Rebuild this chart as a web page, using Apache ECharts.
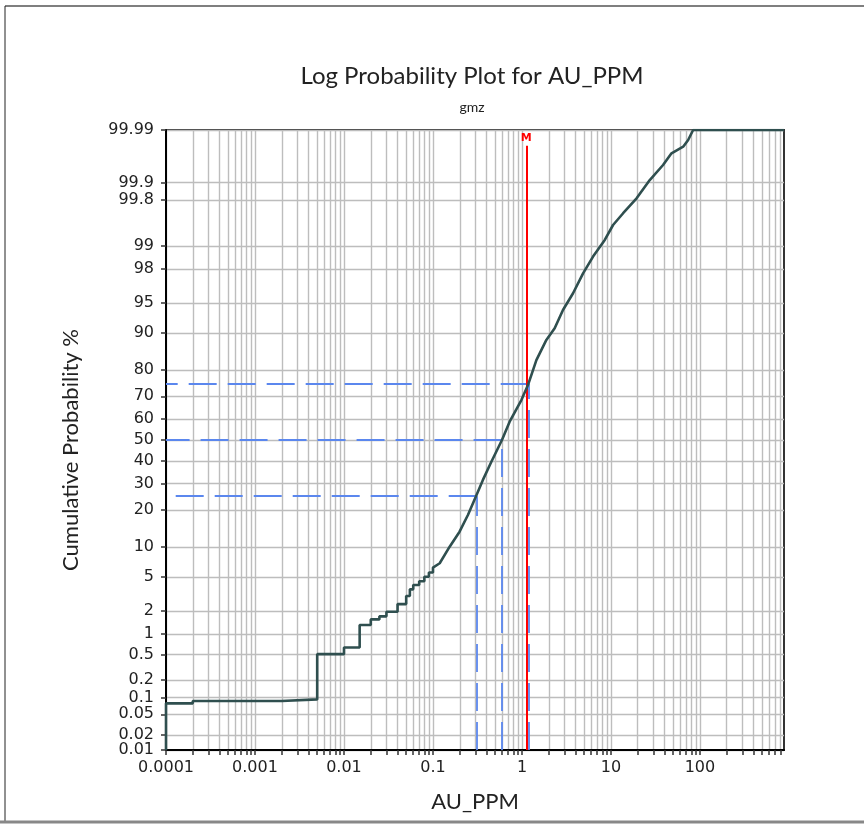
<!DOCTYPE html>
<html><head><meta charset="utf-8">
<script src="https://cdn.jsdelivr.net/npm/echarts@6/dist/echarts.min.js"></script>
<style>html,body{margin:0;padding:0;background:#fff}#chart{width:864px;height:829px}</style>
</head><body><div id="chart"></div>
<script>
// ---- data ----
const auPpm = [0.0001, 0.0001, 0.0002, 0.0002, 0.002, 0.002, 0.005, 0.005, 0.01, 0.01, 0.015, 0.015,
  0.02, 0.02, 0.025, 0.025, 0.03, 0.03, 0.04, 0.04, 0.05, 0.05, 0.055, 0.055, 0.06, 0.06, 0.07, 0.07,
  0.08, 0.08, 0.09, 0.09, 0.1, 0.1, 0.119, 0.154, 0.199, 0.247, 0.301, 0.364, 0.453, 0.596, 0.727,
  0.985, 1.168, 1.452, 1.88, 2.33, 2.89, 3.75, 4.86, 6.29, 8.52, 10.56, 13.7, 19.4, 27.3, 38.5, 47.9,
  64.8, 73.7, 83.8, 880];
const cumPct = [0.01, 0.079, 0.079, 0.087, 0.087, 0.093, 0.093, 0.51, 0.51, 0.64, 0.64, 1.32,
  1.32, 1.57, 1.57, 1.72, 1.72, 1.97, 1.97, 2.45, 2.45, 3.07, 3.07, 3.66, 3.66, 4.09, 4.09, 4.5,
  4.5, 5.05, 5.05, 5.6, 5.6, 6.3, 6.96, 10.03, 13.57, 18.4, 24.6, 31.6, 39.7, 50, 58.7,
  68.4, 74.5, 83.1, 88.5, 91.0, 94.06, 96.08, 97.72, 98.61, 99.18, 99.505, 99.674, 99.813, 99.909, 99.9515, 99.9708,
  99.9783, 99.984, 99.99, 99.99];
const probTickLabels = ['0.01','0.02','0.05','0.1','0.2','0.5','1','2','5','10','20','30','40','50',
  '60','70','80','90','95','98','99','99.8','99.9','99.99'];
const ppmTickLabels = ['0.0001','0.001','0.01','0.1','1','10','100'];
const quartilePct = [25, 50, 75];
const quartilePpm = [0.31, 0.59, 1.19];
const meanPpm = 1.12;
const ppmMin = 0.0001;
const ppmMax = 880;

// ---- normal probability scale ----
function probit(p){
  const a=[-3.969683028665376e+01,2.209460984245205e+02,-2.759285104469687e+02,1.383577518672690e+02,-3.066479806614716e+01,2.506628277459239e+00];
  const b=[-5.447609879822406e+01,1.615858368580409e+02,-1.556989798598866e+02,6.680131188771972e+01,-1.328068155288572e+01];
  const c=[-7.784894002430293e-03,-3.223964580411365e-01,-2.400758277161838e+00,-2.549671010466018e+00,4.374664141464968e+00,2.938163982698783e+00];
  const d=[7.784695709041462e-03,3.224671290700398e-01,2.445134137142996e+00,3.754408661907416e+00];
  const pl=0.02425, ph=1-pl; let q, r;
  if (p < pl) { q=Math.sqrt(-2*Math.log(p)); return (((((c[0]*q+c[1])*q+c[2])*q+c[3])*q+c[4])*q+c[5])/((((d[0]*q+d[1])*q+d[2])*q+d[3])*q+1); }
  if (p <= ph) { q=p-0.5; r=q*q; return (((((a[0]*r+a[1])*r+a[2])*r+a[3])*r+a[4])*r+a[5])*q/(((((b[0]*r+b[1])*r+b[2])*r+b[3])*r+b[4])*r+1); }
  q=Math.sqrt(-2*Math.log(1-p)); return -(((((c[0]*q+c[1])*q+c[2])*q+c[3])*q+c[4])*q+c[5])/((((d[0]*q+d[1])*q+d[2])*q+d[3])*q+1);
}
const zOf = pct => probit(pct / 100);
const lg = v => Math.log10(v);

const zMin = zOf(parseFloat(probTickLabels[0]));
const zMax = zOf(parseFloat(probTickLabels[probTickLabels.length - 1]));
const yTickVals = probTickLabels.map(s => zOf(parseFloat(s)));
const xMin = lg(ppmMin), xMax = lg(ppmMax);
const xLabelVals = ppmTickLabels.map(s => lg(parseFloat(s)));
const xTickVals = [];
ppmTickLabels.forEach(s => { const base = parseFloat(s); for (let k = 1; k <= 9; k++) { const v = lg(k * base); if (v <= xMax + 1e-9) xTickVals.push(v); } });

const curve = auPpm.map((v, i) => [lg(v), zOf(cumPct[i])]);

const blue = '#5b87ee';
const dash = [28, 11];
const quartileLines = [];
quartilePct.forEach((p, i) => {
  const x = lg(quartilePpm[i]), y = zOf(p);
  quartileLines.push([{ coord: [x, y] }, { coord: [xMin, y] }]);
  quartileLines.push([{ coord: [x, zMin] }, { coord: [x, y] }]);
});

const nearest = (vals, labels) => v => { let best = 0; vals.forEach((t, i) => { if (Math.abs(t - v) < Math.abs(vals[best] - v)) best = i; }); return labels[best]; };

const labelFont = 'DejaVu Sans';
const titleFont = 'Lato';
const gridColor = '#bdbdbd';
const yLabelStyle = { showMinLabel: true, showMaxLabel: true, hideOverlap: false, margin: 12,
  fontFamily: labelFont, fontSize: 16, color: '#222', formatter: nearest(yTickVals, probTickLabels) };
const chart = echarts.init(document.getElementById('chart'), null, { renderer: 'canvas' });
chart.setOption({
  animation: false,
  backgroundColor: '#fff',
  title: [
    { text: 'Log Probability Plot for AU_PPM', left: 472, top: 64, textAlign: 'center', padding: 0,
      textStyle: { fontFamily: titleFont, fontSize: 24, fontWeight: 'normal', color: '#222' } },
    { text: 'gmz', left: 472, top: 100, textAlign: 'center', padding: 0,
      textStyle: { fontFamily: titleFont, fontSize: 14, fontWeight: 'normal', color: '#222' } }
  ],
  grid: { left: 166, top: 130, right: 80, bottom: 79, show: true, borderColor: '#333', borderWidth: 2, backgroundColor: 'transparent', outerBoundsMode: 'none' },
  xAxis: {
    type: 'value', min: xMin, max: xMax,
    name: 'AU_PPM', nameLocation: 'middle', nameGap: 41,
    nameTextStyle: { fontFamily: titleFont, fontSize: 22, color: '#222' },
    axisLine: { show: true, onZero: false, lineStyle: { color: '#000', width: 2 } },
    axisTick: { show: true, inside: false, length: 5, customValues: xTickVals, lineStyle: { color: '#333', width: 1.5 } },
    axisLabel: { customValues: xLabelVals, showMinLabel: true, showMaxLabel: true, margin: 10, fontFamily: labelFont, fontSize: 16, color: '#222',
      formatter: nearest(xLabelVals, ppmTickLabels) },
    splitLine: { show: true, lineStyle: { color: gridColor, width: 1.4 } },
    minorTick: { show: false }, minorSplitLine: { show: false }
  },
  yAxis: [
    {
      type: 'value', min: zMin, max: zMax, position: 'left',
      name: 'Cumulative Probability %', nameLocation: 'middle', nameGap: 84,
      nameTextStyle: { fontFamily: titleFont, fontSize: 22, color: '#222', padding: [0, 20, 0, 0] },
      axisLine: { show: true, onZero: false, lineStyle: { color: '#000', width: 2 } },
      axisTick: { show: true, inside: false, length: 5, customValues: yTickVals, lineStyle: { color: '#333', width: 1.5 } },
      axisLabel: Object.assign({ customValues: yTickVals.slice(1) }, yLabelStyle),
      splitLine: { show: true, lineStyle: { color: gridColor, width: 1.4 } },
      minorTick: { show: false }, minorSplitLine: { show: false }
    },
    {
      type: 'value', min: zMin, max: zMax, position: 'left', offset: 0,
      axisLine: { show: false, onZero: false }, axisTick: { show: false },
      axisLabel: Object.assign({ customValues: yTickVals.slice(0, 1) }, yLabelStyle),
      splitLine: { show: false }, minorTick: { show: false }, minorSplitLine: { show: false }
    }
  ],
  series: [
    {
      type: 'line', name: 'quartiles', data: [], z: 2, silent: true,
      markLine: { silent: true, symbol: ['none', 'none'], label: { show: false },
        lineStyle: { color: blue, width: 1.8, type: dash }, data: quartileLines }
    },
    {
      type: 'line', name: 'mean', data: [], z: 3, silent: true,
      markLine: { silent: true, symbol: ['none', 'none'],
        label: { show: true, position: 'end', distance: 2, formatter: 'M', color: '#ff0000', fontSize: 11, fontWeight: 'bold', fontFamily: labelFont },
        lineStyle: { color: '#ff0000', width: 2, type: 'solid' },
        data: [[{ coord: [lg(meanPpm), zMin] }, { coord: [lg(meanPpm), zMax - 0.19] }]] }
    },
    {
      type: 'line', name: 'AU_PPM', data: curve, z: 5, showSymbol: false, symbol: 'none',
      lineStyle: { color: '#2f4f4f', width: 2.6 }, clip: true
    }
  ],
  graphic: [
    { type: 'line', shape: { x1: 5, y1: 6, x2: 864, y2: 6 }, style: { stroke: '#555', lineWidth: 1.5 }, silent: true },
    { type: 'line', shape: { x1: 5, y1: 6, x2: 5, y2: 822 }, style: { stroke: '#222', lineWidth: 1 }, silent: true },
    { type: 'line', shape: { x1: 0, y1: 822, x2: 864, y2: 822 }, style: { stroke: '#888', lineWidth: 3 }, silent: true }
  ]
});
</script></body></html>
